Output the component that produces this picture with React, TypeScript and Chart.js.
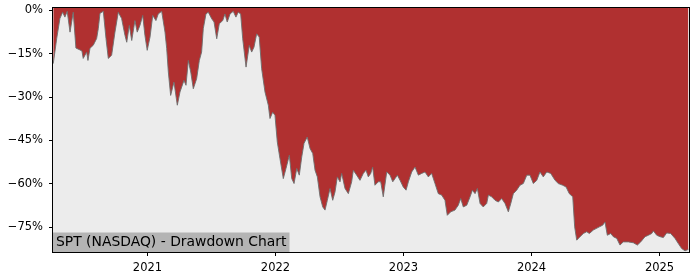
import React, { useEffect, useRef } from "react";
import { Chart, registerables } from "chart.js";

Chart.register(...registerables);

const TITLE = "SPT (NASDAQ) - Drawdown Chart";

const yearTicks = [2021, 2022, 2023, 2024, 2025];
const pctTicks = [-75, -60, -45, -30, -15, 0];

const dates = [
  2020.264, 2020.291, 2020.316, 2020.337, 2020.355, 2020.373, 2020.395, 2020.42, 2020.441, 2020.465,
  2020.488, 2020.498, 2020.525, 2020.535, 2020.551, 2020.577, 2020.603, 2020.616, 2020.629, 2020.655,
  2020.676, 2020.694, 2020.72, 2020.746, 2020.772, 2020.798, 2020.824, 2020.838, 2020.858, 2020.877,
  2020.902, 2020.92, 2020.941, 2020.963, 2020.98, 2020.998, 2021.02, 2021.041, 2021.066, 2021.084,
  2021.111, 2021.137, 2021.15, 2021.163, 2021.181, 2021.207, 2021.233, 2021.254, 2021.285, 2021.301,
  2021.319, 2021.338, 2021.358, 2021.384, 2021.405, 2021.423, 2021.436, 2021.457, 2021.475, 2021.502,
  2021.52, 2021.541, 2021.561, 2021.588, 2021.605, 2021.623, 2021.645, 2021.67, 2021.691, 2021.709,
  2021.728, 2021.744, 2021.77, 2021.795, 2021.814, 2021.832, 2021.853, 2021.873, 2021.892, 2021.918,
  2021.944, 2021.957, 2021.978, 2021.996, 2022.014, 2022.035, 2022.061, 2022.082, 2022.108, 2022.127,
  2022.145, 2022.166, 2022.186, 2022.205, 2022.223, 2022.248, 2022.27, 2022.291, 2022.309, 2022.327,
  2022.348, 2022.369, 2022.387, 2022.405, 2022.426, 2022.447, 2022.465, 2022.483, 2022.504, 2022.517,
  2022.543, 2022.569, 2022.595, 2022.608, 2022.634, 2022.66, 2022.686, 2022.707, 2022.725, 2022.744,
  2022.759, 2022.777, 2022.803, 2022.822, 2022.842, 2022.869, 2022.895, 2022.916, 2022.934, 2022.952,
  2022.973, 2022.998, 2023.02, 2023.038, 2023.064, 2023.09, 2023.116, 2023.142, 2023.168, 2023.194,
  2023.22, 2023.246, 2023.272, 2023.298, 2023.324, 2023.342, 2023.369, 2023.402, 2023.428, 2023.447,
  2023.467, 2023.494, 2023.52, 2023.538, 2023.559, 2023.577, 2023.598, 2023.623, 2023.65, 2023.663,
  2023.689, 2023.715, 2023.741, 2023.767, 2023.793, 2023.819, 2023.838, 2023.858, 2023.884, 2023.91,
  2023.936, 2023.963, 2023.988, 2024.014, 2024.041, 2024.066, 2024.092, 2024.119, 2024.15, 2024.184,
  2024.209, 2024.244, 2024.27, 2024.295, 2024.322, 2024.337, 2024.353, 2024.379, 2024.405, 2024.431,
  2024.452, 2024.483, 2024.504, 2024.53, 2024.556, 2024.574, 2024.592, 2024.619, 2024.639, 2024.666,
  2024.691, 2024.717, 2024.756, 2024.795, 2024.827, 2024.853, 2024.887, 2024.913, 2024.939, 2024.952,
  2024.978, 2025.004, 2025.03, 2025.056, 2025.087, 2025.121, 2025.147, 2025.173, 2025.199, 2025.225,
];

const drawdown = [
  -18.4, -9.7, -2.8, -0.6, -2.3, -0.3, -7.5, -0.6, -13.0, -13.5,
  -14.0, -16.6, -14.4, -17.3, -13.1, -12.0, -9.7, -6.2, -1.0, -0.3,
  -9.7, -16.6, -15.5, -7.5, -0.6, -2.8, -8.6, -11.0, -5.2, -10.4,
  -3.5, -7.5, -5.2, -1.7, -8.6, -13.8, -9.2, -1.7, -3.5, -1.2,
  -0.3, -7.5, -13.1, -21.3, -29.4, -24.8, -32.8, -28.2, -24.2, -25.9,
  -17.3, -21.3, -27.1, -23.6, -17.3, -14.4, -6.3, -1.2, -0.6, -2.9,
  -4.0, -9.8, -4.6, -3.5, -1.2, -4.0, -1.2, -0.3, -2.3, -0.6,
  -1.2, -9.8, -19.6, -12.1, -14.4, -12.7, -8.1, -9.2, -20.2, -28.2,
  -32.8, -37.4, -35.2, -36.3, -45.5, -51.3, -58.2, -54.7, -50.1, -58.2,
  -59.9, -54.7, -57.0, -50.7, -46.0, -43.8, -47.8, -49.5, -55.3, -57.6,
  -64.5, -68.0, -69.1, -65.7, -61.6, -65.7, -62.8, -57.6, -59.3, -56.4,
  -61.6, -63.4, -59.3, -55.3, -57.0, -58.8, -56.4, -55.3, -57.6, -56.4,
  -54.2, -60.5, -59.3, -59.3, -64.5, -55.9, -57.0, -59.3, -58.2, -57.0,
  -58.8, -61.1, -62.2, -59.3, -55.9, -54.2, -57.0, -56.4, -55.9, -57.6,
  -56.4, -59.9, -63.4, -63.9, -65.7, -70.9, -69.7, -69.1, -67.4, -65.1,
  -68.0, -67.4, -64.5, -62.2, -63.4, -61.6, -66.8, -68.0, -66.8, -63.9,
  -64.5, -65.7, -66.3, -65.1, -66.8, -69.7, -66.8, -63.4, -62.2, -60.5,
  -59.9, -57.0, -57.0, -59.9, -58.8, -55.9, -57.6, -55.9, -56.4, -58.8,
  -59.9, -60.5, -61.1, -63.4, -64.5, -74.9, -79.5, -78.3, -77.2, -76.6,
  -77.2, -76.0, -75.5, -74.9, -74.3, -73.2, -77.8, -77.2, -78.3, -78.9,
  -81.2, -80.1, -80.1, -80.4, -81.2, -80.1, -78.3, -77.8, -77.2, -76.3,
  -77.8, -78.3, -78.6, -77.0, -77.2, -78.9, -80.7, -82.4, -83.2, -82.7,
];

const X_MIN = 2020.262;
const X_MAX = 2025.238;
const Y_MIN = -83.6;
const Y_MAX = 1.2;

const FONT = "DejaVu Sans";

const framePlugin = {
  id: "frameAndTitle",
  beforeDatasetsDraw(chart: any) {
    const { ctx, chartArea } = chart;
    ctx.save();
    ctx.fillStyle = "#ececec";
    ctx.fillRect(chartArea.left, chartArea.top, chartArea.right - chartArea.left, chartArea.bottom - chartArea.top);
    ctx.restore();
  },
  afterDatasetsDraw(chart: any) {
    const { ctx, chartArea } = chart;
    ctx.save();
    ctx.font = `13.9px "${FONT}"`;
    const tw = ctx.measureText(TITLE).width;
    ctx.fillStyle = "#b4b4b4";
    ctx.fillRect(chartArea.left, chartArea.bottom - 19.5, tw + 6, 19.5);
    ctx.fillStyle = "#000";
    ctx.textBaseline = "middle";
    ctx.textAlign = "left";
    ctx.fillText(TITLE, chartArea.left + 3, chartArea.bottom - 9.5);
    ctx.strokeStyle = "#000";
    ctx.lineWidth = 1;
    ctx.strokeRect(chartArea.left - 0.5, chartArea.top + 0.5, chartArea.right - chartArea.left, chartArea.bottom - chartArea.top);
    ctx.restore();
  },
};

export default function App() {
  const ref = useRef<HTMLCanvasElement | null>(null);

  useEffect(() => {
    document.body.style.margin = "0";
    const canvas = ref.current;
    if (!canvas) return;
    const points = dates.map((d, i) => ({ x: d, y: drawdown[i] }));
    const chart = new Chart(canvas, {
      type: "line",
      data: {
        datasets: [
          {
            data: points,
            borderColor: "rgba(110,110,110,0.9)",
            borderWidth: 1,
            backgroundColor: "#b03030",
            fill: "end",
            pointRadius: 0,
            tension: 0,
          },
        ],
      },
      options: {
        responsive: false,
        animation: false,
        layout: { padding: { left: 0, right: 10, top: 7, bottom: 0 } },
        plugins: { legend: { display: false }, tooltip: { enabled: false }, title: { display: false } },
        scales: {
          x: {
            type: "linear",
            min: X_MIN,
            max: X_MAX,
            afterBuildTicks: (s: any) => {
              s.ticks = yearTicks.map((v) => ({ value: v }));
            },
            afterFit: (s: any) => {
              s.height = 28;
              s.paddingLeft = 0;
              s.paddingRight = 0;
            },
            grid: { display: true, drawOnChartArea: false, drawTicks: true, tickLength: 4, color: "#000", tickColor: "#000" },
            border: { display: false },
            ticks: {
              color: "#000",
              font: { family: FONT, size: 11.5 },
              padding: 5,
              maxRotation: 0,
              autoSkip: false,
              callback: (v: any) => String(v),
            },
          },
          y: {
            type: "linear",
            min: Y_MIN,
            max: Y_MAX,
            afterBuildTicks: (s: any) => {
              s.ticks = pctTicks.map((v) => ({ value: v }));
            },
            afterFit: (s: any) => {
              s.width = 53;
              s.paddingTop = 0;
              s.paddingBottom = 0;
            },
            grid: { display: true, drawOnChartArea: false, drawTicks: true, tickLength: 4, color: "#000", tickColor: "#000" },
            border: { display: false },
            ticks: {
              color: "#000",
              font: { family: FONT, size: 11.5 },
              padding: 6,
              autoSkip: false,
              callback: (v: any) => (v < 0 ? "\u2212" + Math.abs(v) + "%" : v + "%"),
            },
          },
        },
      },
      plugins: [framePlugin],
    });
    return () => chart.destroy();
  }, []);

  return (
    <div style={{ width: 700, height: 280 }}>
      <canvas ref={ref} width={700} height={280} style={{ display: "block" }} />
    </div>
  );
}
